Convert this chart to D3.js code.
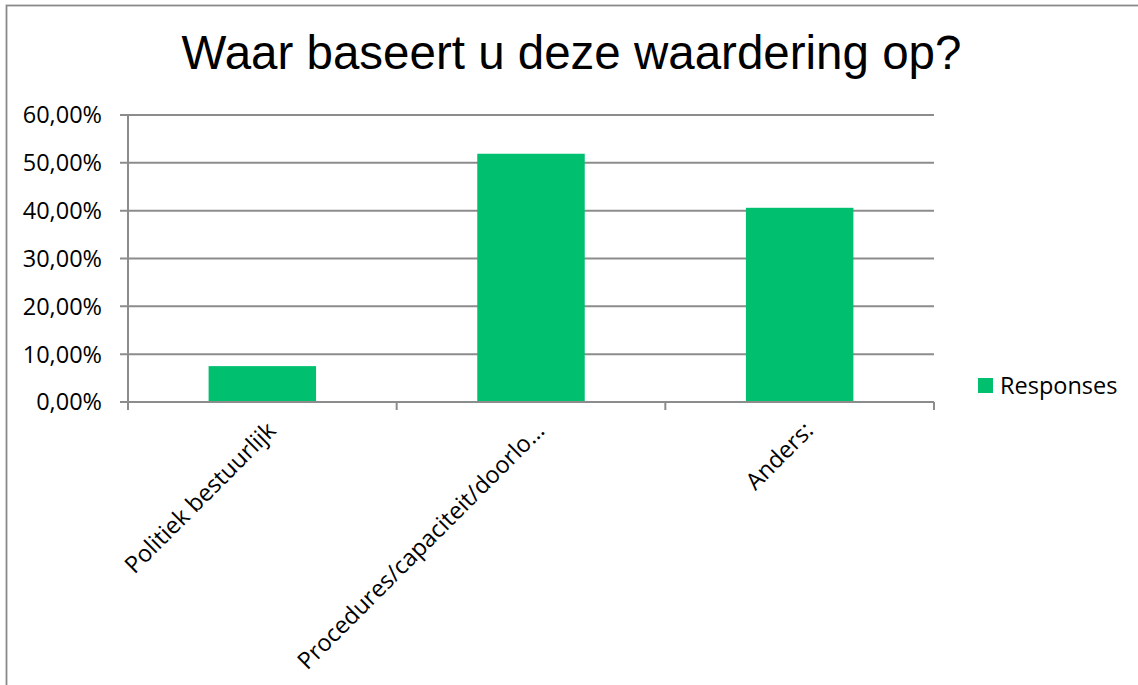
<!DOCTYPE html>
<html>
<head>
<meta charset="utf-8">
<script src="https://cdn.jsdelivr.net/npm/d3@7/dist/d3.min.js"></script>
<style>
  html, body { margin: 0; padding: 0; background: #fff; overflow: hidden; }
  svg { display: block; }
</style>
</head>
<body>
<svg id="chart" width="1138" height="685"></svg>
<script>
// ---- data ----
const titleText = "Waar baseert u deze waardering op?";
const categories = ["Politiek bestuurlijk", "Procedures/capaciteit/doorlo\u2026", "Anders:"];
const seriesName = "Responses";
const responses = [0.075, 0.519, 0.406];
const yTicks = [0, 0.1, 0.2, 0.3, 0.4, 0.5, 0.6];

// ---- layout ----
const W = 1138, H = 685;
const plot = { left: 128, right: 934, top: 115, bottom: 402 };
const green = "#00BF6F";
const gridColor = "#8c8c8c";
const labelFont = "'Open Sans', sans-serif";
const labelSize = 23.5;

const svg = d3.select("#chart");

// outer chart border (only top & left visible in the frame)
svg.append("rect")
  .attr("x", 6.5).attr("y", 5.5)
  .attr("width", W + 20).attr("height", H + 20)
  .attr("fill", "none").attr("stroke", "#8a8a8a").attr("stroke-width", 1.8);

// title
svg.append("text")
  .attr("x", 571.5).attr("y", 69)
  .attr("text-anchor", "middle")
  .attr("font-family", "'Liberation Sans', Arial, sans-serif")
  .attr("font-size", 47.5)
  .attr("fill", "#000")
  .text(titleText);

const x = d3.scaleBand()
  .domain(categories)
  .range([plot.left, plot.right])
  .paddingInner(0.6)
  .paddingOuter(0.3);

const y = d3.scaleLinear().domain([0, 0.6]).range([plot.bottom, plot.top]);

const nl = d3.formatLocale({ decimal: ",", thousands: ".", grouping: [3], currency: ["€", ""] });
const pct = nl.format(".2%");

// gridlines (incl. zero line) with left tick stubs
svg.append("g")
  .selectAll("line")
  .data(yTicks)
  .join("line")
  .attr("x1", plot.left - 8).attr("x2", plot.right)
  .attr("y1", d => y(d)).attr("y2", d => y(d))
  .attr("stroke", gridColor).attr("stroke-width", 2);

// y tick labels
svg.append("g")
  .selectAll("text")
  .data(yTicks)
  .join("text")
  .attr("x", 102).attr("y", d => y(d))
  .attr("dy", "0.36em")
  .attr("text-anchor", "end")
  .attr("font-family", labelFont)
  .attr("font-size", labelSize)
  .attr("fill", "#000")
  .text(d => pct(d));

// bars
svg.append("g")
  .selectAll("rect")
  .data(responses)
  .join("rect")
  .attr("x", (d, i) => x(categories[i]))
  .attr("width", x.bandwidth())
  .attr("y", d => y(d))
  .attr("height", d => y(0) - y(d))
  .attr("fill", green);

// redraw zero axis line above bars
svg.append("line")
  .attr("x1", plot.left - 8).attr("x2", plot.right)
  .attr("y1", y(0)).attr("y2", y(0))
  .attr("stroke", gridColor).attr("stroke-width", 2);

// y axis line
svg.append("line")
  .attr("x1", plot.left).attr("x2", plot.left)
  .attr("y1", plot.top).attr("y2", plot.bottom + 8)
  .attr("stroke", gridColor).attr("stroke-width", 2);

// x tick marks at category boundaries
const step = x.step();
const boundaries = categories.map((c, i) => plot.left + step * (i + 1));
svg.append("g")
  .selectAll("line")
  .data(boundaries)
  .join("line")
  .attr("x1", d => d).attr("x2", d => d)
  .attr("y1", plot.bottom).attr("y2", plot.bottom + 8)
  .attr("stroke", gridColor).attr("stroke-width", 2);

// x labels rotated -45
svg.append("g")
  .selectAll("text")
  .data(categories)
  .join("text")
  .attr("transform", (d, i) => {
    const cx = plot.left + step * (i + 0.5) + 15;
    return `translate(${cx},${plot.bottom + 30}) rotate(-45)`;
  })
  .attr("text-anchor", "end")
  .attr("font-family", labelFont)
  .attr("font-size", labelSize)
  .attr("fill", "#000")
  .text(d => d);

// legend
const lg = svg.append("g").attr("transform", "translate(978,378)");
lg.append("rect").attr("width", 15).attr("height", 15).attr("fill", green);
lg.append("text")
  .attr("x", 22).attr("y", 7.5).attr("dy", "0.36em")
  .attr("font-family", labelFont)
  .attr("font-size", labelSize)
  .attr("fill", "#000")
  .text(seriesName);
</script>
</body>
</html>
